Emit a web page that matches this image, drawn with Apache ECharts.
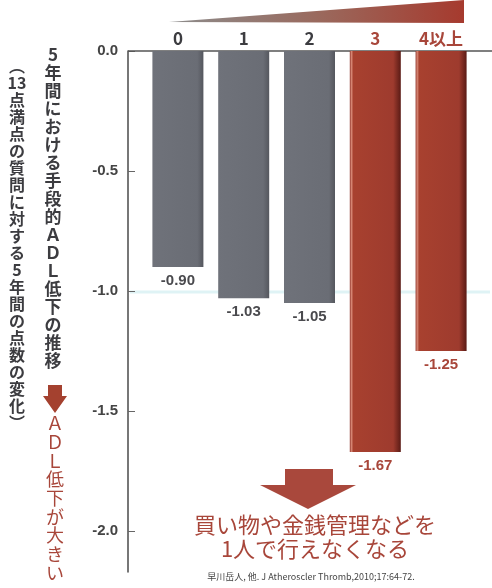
<!DOCTYPE html>
<html>
<head>
<meta charset="utf-8">
<script src="https://cdn.jsdelivr.net/npm/echarts@6/dist/echarts.min.js"></script>
<style>
  html, body { margin: 0; padding: 0; background: #fff; }
  #chart { width: 492px; height: 588px; }
</style>
</head>
<body>
<div id="chart"></div>
<script>
// 手段的ADL低下の数ごとの5年間の点数変化
const categories = ['0', '1', '2', '3', '4以上'];
const adlChange = [-0.90, -1.03, -1.05, -1.67, -1.25];
const yTicks = [0, -0.5, -1.0, -1.5, -2.0];
const redFrom = 3; // ここから赤

const RED = '#a4412f';
const RED_TEXT = '#a8463a';
const DARK = '#3c3c40';
const JP = '"Noto Sans CJK JP", "Noto Sans", sans-serif';

const chart = echarts.init(document.getElementById('chart'));

const grayBar = new echarts.graphic.LinearGradient(0, 0, 1, 0, [
  { offset: 0, color: '#6f727a' },
  { offset: 0.88, color: '#6a6d75' },
  { offset: 1, color: '#55575e' }
]);
const redBar = new echarts.graphic.LinearGradient(0, 0, 1, 0, [
  { offset: 0, color: '#8a2c22' },
  { offset: 0.03, color: '#d98a78' },
  { offset: 0.07, color: '#a8412f' },
  { offset: 0.85, color: '#9e3b2e' },
  { offset: 1, color: '#5a1b15' }
]);

// 縦書き用
const vert = (cells) => cells.join('\n');

const option = {
  animation: false,
  grid: { left: 145, right: 18, top: 51, bottom: 16 },
  xAxis: {
    type: 'category',
    position: 'top',
    data: categories,
    axisLine: { show: false },
    axisTick: { show: false },
    axisLabel: {
      margin: 4,
      fontSize: 17,
      fontWeight: 'bold',
      fontFamily: JP,
      color: (value, index) => (index >= redFrom ? RED_TEXT : DARK)
    }
  },
  yAxis: {
    type: 'value',
    max: 0,
    min: -2.17,
    offset: 17,
    splitLine: { show: false },
    axisLine: { show: true, lineStyle: { color: '#4a4a4a', width: 1.5 } },
    axisTick: {
      show: true,
      inside: true,
      length: 7,
      customValues: yTicks,
      lineStyle: { color: '#666' }
    },
    axisLabel: {
      customValues: yTicks,
      margin: 10,
      fontSize: 15,
      fontWeight: 'bold',
      fontFamily: '"Liberation Sans", Arial, sans-serif',
      color: '#444',
      formatter: (v) => v.toFixed(1)
    }
  },
  series: [{
    type: 'bar',
    barWidth: 51,
    z: 3,
    data: adlChange.map((v, i) => ({
      value: v,
      itemStyle: { color: i >= redFrom ? redBar : grayBar },
      label: { color: i >= redFrom ? RED_TEXT : '#4a4a4e' }
    })),
    label: {
      show: true,
      position: 'bottom',
      distance: 6,
      fontSize: 15,
      fontWeight: 'bold',
      fontFamily: '"Liberation Sans", Arial, sans-serif',
      formatter: (p) => p.value.toFixed(2)
    }
  }],
  graphic: [
    // 上端の横線
    {
      type: 'line', z: 1,
      shape: { x1: 128, y1: 51, x2: 492, y2: 51 },
      style: { stroke: '#555', lineWidth: 1.5 }
    },
    // -1.0付近の薄い線
    {
      type: 'line', z: 0,
      shape: { x1: 130, y1: 292, x2: 490, y2: 292 },
      style: { stroke: 'rgba(150,215,222,0.3)', lineWidth: 3 }
    },
    // 上のくさび
    {
      type: 'polygon', z: 1,
      shape: { points: [[169, 22], [464, 0], [464, 23]] },
      style: {
        fill: new echarts.graphic.LinearGradient(0, 0, 1, 0, [
          { offset: 0, color: '#8c8c8c' },
          { offset: 0.5, color: '#9a6a5e' },
          { offset: 1, color: '#a63a2e' }
        ])
      }
    },
    // 縦書きタイトル
    {
      type: 'text',
      style: {
        text: vert(['5', '年', '間', 'に', 'お', 'け', 'る', '手', '段', '的', 'Ａ', 'Ｄ', 'Ｌ', '低', '下', 'の', '推', '移']),
        x: 53, y: 46,
        align: 'center', verticalAlign: 'top',
        fontSize: 17, fontWeight: 'bold', fontFamily: JP,
        lineHeight: 18, fill: DARK
      }
    },
    {
      type: 'text',
      style: {
        text: vert(['︵', '13', '点', '満', '点', 'の', '質', '問', 'に', '対', 'す', 'る', '5', '年', '間', 'の', '点', '数', 'の', '変', '化', '︶']),
        x: 17, y: 57,
        align: 'center', verticalAlign: 'top',
        fontSize: 16, fontWeight: 'bold', fontFamily: JP,
        lineHeight: 17, fill: DARK
      }
    },
    // 赤い矢印と注記
    {
      type: 'polygon',
      shape: { points: [[48, 385], [62, 385], [62, 396], [67, 396], [55, 413], [43, 396], [48, 396]] },
      style: { fill: RED }
    },
    {
      type: 'text',
      style: {
        text: vert(['Ａ', 'Ｄ', 'Ｌ', '低', '下', 'が', '大', 'き', 'い']),
        x: 55, y: 414,
        align: 'center', verticalAlign: 'top',
        fontSize: 18, fontFamily: JP,
        lineHeight: 18.7, fill: RED_TEXT
      }
    },
    // 下の大きな矢印
    {
      type: 'polygon',
      shape: { points: [[285, 469], [333, 469], [333, 485], [356, 485], [308, 509], [260, 485], [285, 485]] },
      style: { fill: '#a9483c' }
    },
    {
      type: 'text',
      style: {
        text: '買い物や金銭管理などを\n1人で行えなくなる',
        x: 315, y: 513,
        align: 'center', verticalAlign: 'top',
        fontSize: 22, fontFamily: JP,
        lineHeight: 24, fill: RED_TEXT
      }
    },
    {
      type: 'text',
      style: {
        text: '早川岳人, 他. J Atheroscler Thromb,2010;17:64-72.',
        x: 311, y: 577,
        align: 'center', verticalAlign: 'middle',
        fontSize: 9, fontFamily: JP,
        fill: '#444'
      }
    }
  ]
};

chart.setOption(option);
</script>
</body>
</html>
